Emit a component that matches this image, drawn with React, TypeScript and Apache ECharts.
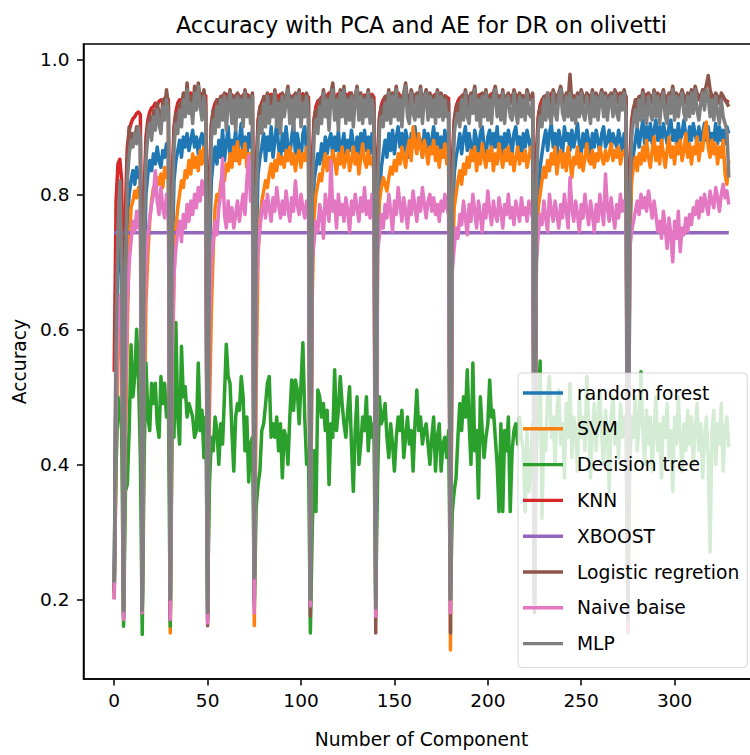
import React, { useEffect, useRef } from "react";
import * as echarts from "echarts";

const chartTitle = "Accuracy with PCA and AE for DR on olivetti";
const xAxisTitle = "Number of Component";
const yAxisTitle = "Accuracy";

// Every run restarts the component count; index at which each run begins
const segmentStarts = [0, 5, 15, 30, 50, 75, 105, 140, 180, 225, 275];
const lastIndex = 329;
const xTicks = [0, 50, 100, 150, 200, 250, 300];
const yTicks = [0.2, 0.4, 0.6, 0.8, 1.0];

const seriesNames = [
  "random forest",
  "SVM",
  "Decision tree",
  "KNN",
  "XBOOST",
  "Logistic regretion",
  "Naive baise",
  "MLP",
];
const seriesColors = ["#1f77b4", "#ff7f0e", "#2ca02c", "#d62728", "#9467bd", "#8c564b", "#e377c2", "#7f7f7f"];

// Accuracies in thousandths, one inner array per run
const randomForest = [
  [210, 550, 680, 720, 700],
  [180, 620, 760, 800, 820, 835, 815, 840, 825, 835],
  [180, 680, 800, 830, 850, 835, 860, 845, 870, 850, 840, 865, 855, 875, 860],
  [180, 700, 820, 850, 865, 880, 855, 885, 870, 890, 865, 880, 895, 870, 885, 860, 880, 890, 870, 880],
  [170, 710, 820, 850, 870, 845, 880, 855, 895, 850, 875, 900, 855, 880, 865, 895, 850, 880, 905, 860, 885, 855, 890, 870, 895],
  [200, 720, 830, 855, 870, 890, 850, 885, 865, 900, 855, 880, 905, 870, 850, 890, 865, 900, 870, 855, 885, 905, 860, 890, 870, 850, 890, 900, 860, 880],
  [190, 730, 820, 840, 860, 845, 875, 850, 885, 860, 880, 890, 855, 885, 865, 895, 860, 875, 890, 850, 880, 865, 895, 875, 855, 885, 860, 890, 870, 895, 865, 885, 860, 890, 875],
  [560, 740, 800, 840, 860, 880, 855, 890, 865, 895, 860, 885, 900, 870, 890, 860, 895, 880, 855, 890, 870, 900, 865, 885, 880, 855, 895, 870, 890, 860, 880, 900, 870, 890, 860, 885, 860, 895, 870, 880],
  [200, 730, 830, 855, 870, 890, 860, 885, 900, 865, 890, 870, 855, 895, 880, 860, 890, 900, 870, 855, 885, 895, 865, 890, 870, 900, 860, 885, 855, 890, 870, 895, 880, 860, 890, 900, 870, 885, 855, 890, 870, 895, 880, 865, 885],
  [190, 700, 800, 840, 860, 880, 895, 865, 890, 905, 870, 890, 855, 895, 880, 860, 900, 880, 890, 865, 895, 870, 885, 905, 875, 860, 890, 870, 895, 880, 855, 890, 870, 895, 880, 860, 890, 900, 870, 880, 895, 865, 890, 880, 870, 895, 880, 865, 890, 880],
  [190, 720, 830, 860, 880, 900, 870, 890, 910, 875, 900, 880, 905, 875, 895, 910, 880, 900, 875, 905, 890, 875, 900, 910, 880, 895, 875, 905, 880, 890, 910, 885, 875, 900, 880, 905, 890, 875, 900, 880, 890, 905, 880, 900, 875, 890, 880, 905, 875, 900, 880, 895, 875, 900, 890],
];

const svm = [
  [210, 400, 550, 620, 600],
  [175, 420, 600, 720, 780, 790, 805, 795, 810, 800],
  [180, 450, 640, 710, 760, 790, 810, 800, 825, 815, 830, 810, 840, 825, 835],
  [150, 500, 680, 750, 780, 800, 820, 810, 835, 825, 850, 830, 860, 840, 855, 835, 865, 845, 870, 850],
  [170, 480, 625, 720, 780, 800, 790, 815, 830, 820, 845, 835, 860, 840, 870, 850, 878, 845, 865, 855, 875, 840, 860, 850, 865],
  [161, 520, 710, 760, 790, 805, 820, 810, 830, 845, 825, 850, 835, 860, 845, 855, 840, 865, 850, 870, 845, 860, 835, 855, 865, 840, 860, 850, 870, 845],
  [190, 649, 768, 800, 815, 830, 820, 845, 860, 835, 855, 840, 865, 850, 830, 860, 845, 870, 840, 855, 865, 835, 850, 870, 845, 860, 830, 855, 875, 850, 840, 865, 845, 855, 835],
  [175, 730, 790, 810, 825, 815, 805, 825, 840, 830, 850, 835, 860, 845, 870, 855, 840, 865, 880, 850, 900, 875, 860, 890, 870, 855, 880, 865, 845, 870, 860, 880, 850, 870, 840, 865, 855, 875, 845, 860],
  [125, 690, 780, 800, 820, 835, 815, 845, 830, 855, 840, 865, 850, 870, 835, 860, 845, 875, 855, 840, 865, 850, 870, 835, 860, 845, 875, 855, 840, 865, 850, 870, 845, 860, 835, 855, 870, 845, 860, 850, 865, 840, 855, 870, 850],
  [190, 730, 780, 800, 820, 840, 825, 850, 835, 860, 845, 870, 830, 855, 865, 840, 860, 835, 870, 850, 825, 855, 845, 870, 840, 860, 835, 855, 875, 850, 845, 865, 840, 860, 850, 870, 855, 845, 865, 850, 860, 875, 850, 865, 855, 870, 845, 860, 865, 855],
  [185, 740, 820, 840, 855, 835, 860, 845, 870, 850, 880, 855, 840, 865, 885, 850, 870, 845, 880, 860, 840, 865, 885, 855, 870, 845, 875, 860, 880, 850, 865, 890, 855, 875, 845, 870, 860, 885, 850, 875, 865, 895, 907, 870, 855, 880, 860, 875, 845, 870, 855, 880, 830, 815, 850],
];

const decisionTree = [
  [220, 400, 500, 480, 450],
  [160, 360, 370, 450, 577, 500, 530, 600, 530, 410],
  [148, 410, 550, 470, 450, 520, 490, 520, 460, 440, 530, 490, 520, 470, 500],
  [160, 450, 440, 610, 470, 430, 575, 500, 515, 470, 490, 480, 470, 440, 450, 550, 450, 480, 410, 470],
  [200, 370, 440, 420, 470, 450, 400, 460, 430, 500, 578, 530, 520, 450, 390, 470, 490, 480, 530, 500, 420, 470, 374, 430, 440],
  [200, 337, 370, 390, 450, 460, 488, 520, 530, 440, 460, 440, 470, 420, 460, 380, 450, 440, 400, 470, 525, 480, 525, 510, 460, 520, 580, 470, 400, 420],
  [150, 300, 420, 330, 510, 500, 470, 490, 450, 480, 370, 460, 440, 540, 450, 480, 530, 490, 460, 440, 480, 515, 430, 360, 450, 500, 400, 430, 470, 450, 500, 420, 470, 440, 460],
  [200, 380, 500, 460, 470, 490, 440, 410, 460, 430, 390, 440, 470, 450, 480, 410, 440, 470, 430, 450, 390, 460, 510, 450, 470, 430, 450, 460, 430, 400, 440, 470, 390, 440, 460, 390, 430, 440, 410, 450],
  [200, 330, 360, 380, 440, 490, 450, 500, 470, 540, 460, 400, 550, 420, 450, 350, 500, 450, 410, 440, 460, 525, 470, 480, 440, 400, 330, 460, 330, 450, 420, 470, 330, 420, 450, 460, 430, 470, 440, 420, 330, 450, 360, 400, 460],
  [200, 420, 480, 553, 320, 450, 420, 500, 530, 440, 470, 400, 480, 510, 430, 460, 380, 490, 440, 520, 410, 470, 450, 390, 500, 440, 470, 420, 530, 460, 380, 450, 490, 420, 470, 510, 440, 400, 480, 450, 360, 470, 500, 430, 460, 410, 490, 440, 470, 450],
  [160, 400, 470, 440, 500, 420, 460, 537, 450, 400, 480, 430, 470, 390, 450, 500, 420, 460, 380, 470, 440, 490, 410, 450, 360, 470, 430, 500, 440, 390, 460, 420, 480, 430, 470, 400, 450, 490, 420, 460, 380, 440, 470, 410, 270, 450, 480, 400, 460, 430, 490, 390, 450, 470, 425],
];

const knn = [
  [537, 790, 845, 852, 820],
  [300, 780, 870, 895, 905, 912, 915, 920, 922, 918],
  [280, 800, 885, 910, 922, 928, 930, 935, 932, 938, 940, 936, 942, 945, 940],
  [300, 820, 900, 922, 935, 940, 938, 945, 942, 948, 944, 950, 946, 942, 948, 945, 950, 947, 944, 946],
  [280, 830, 905, 925, 935, 940, 938, 944, 946, 942, 948, 945, 950, 947, 943, 946, 949, 945, 942, 947, 944, 948, 946, 943, 945],
  [300, 840, 910, 928, 936, 942, 945, 940, 946, 948, 944, 950, 946, 943, 948, 945, 941, 947, 950, 945, 942, 946, 948, 944, 947, 945, 949, 943, 946, 944],
  [290, 850, 912, 930, 938, 940, 944, 947, 942, 946, 950, 945, 948, 943, 946, 949, 944, 941, 946, 948, 945, 950, 947, 943, 945, 948, 944, 946, 942, 947, 945, 943, 946, 948, 944],
  [580, 860, 915, 932, 940, 944, 946, 942, 948, 945, 943, 947, 950, 946, 944, 948, 945, 942, 946, 949, 944, 947, 945, 943, 948, 946, 944, 950, 947, 945, 942, 946, 948, 944, 947, 945, 943, 946, 944, 942],
  [300, 850, 910, 930, 938, 943, 945, 948, 944, 946, 942, 947, 950, 945, 943, 946, 948, 944, 947, 945, 942, 946, 949, 945, 943, 947, 944, 946, 948, 945, 943, 946, 944, 947, 945, 942, 946, 948, 944, 946, 943, 945, 947, 944, 946],
  [300, 860, 915, 932, 940, 944, 946, 943, 947, 950, 945, 948, 944, 946, 949, 945, 942, 947, 945, 948, 944, 946, 943, 947, 945, 949, 946, 943, 945, 947, 944, 946, 948, 945, 942, 946, 944, 947, 945, 943, 946, 948, 944, 946, 950, 947, 944, 946, 948, 945],
  [300, 850, 910, 928, 936, 940, 944, 946, 942, 945, 948, 944, 946, 943, 947, 945, 941, 946, 948, 944, 946, 943, 945, 947, 944, 946, 942, 945, 948, 944, 946, 943, 945, 947, 944, 942, 946, 944, 947, 945, 943, 941, 945, 947, 944, 942, 946, 944, 940, 943, 941, 944, 940, 938, 936],
];

// XBOOST stays at one level in every run
const xboost = [743, 743, 743, 743, 743, 743, 743, 743, 743, 743, 743];

const logisticRegression = [
  [200, 620, 720, 780, 740],
  [172, 700, 840, 900, 870, 890, 880, 900, 890, 880],
  [180, 760, 870, 900, 915, 890, 925, 905, 935, 920, 900, 940, 925, 955, 930],
  [170, 780, 890, 920, 905, 935, 915, 950, 925, 965, 930, 945, 920, 960, 935, 965, 940, 925, 955, 930],
  [161, 790, 900, 925, 915, 940, 920, 945, 930, 950, 925, 940, 955, 930, 945, 920, 950, 935, 945, 925, 955, 935, 945, 930, 950],
  [190, 800, 905, 930, 920, 945, 930, 950, 925, 945, 935, 955, 930, 940, 920, 950, 935, 945, 960, 930, 945, 925, 950, 935, 955, 930, 945, 940, 950, 935],
  [175, 810, 910, 925, 915, 940, 930, 955, 935, 945, 925, 950, 965, 935, 945, 920, 955, 935, 960, 930, 945, 935, 950, 925, 945, 960, 935, 950, 930, 945, 940, 955, 930, 945, 935],
  [150, 820, 910, 930, 920, 945, 935, 955, 930, 950, 940, 960, 935, 945, 925, 950, 965, 940, 930, 955, 945, 935, 950, 940, 960, 930, 945, 955, 935, 950, 940, 945, 930, 955, 940, 950, 935, 945, 940, 935],
  [150, 810, 905, 925, 935, 920, 945, 935, 955, 940, 930, 950, 945, 960, 935, 945, 925, 950, 940, 955, 935, 945, 930, 950, 960, 940, 945, 935, 955, 930, 945, 950, 940, 935, 955, 945, 930, 950, 940, 945, 935, 955, 945, 940, 950],
  [180, 820, 910, 930, 920, 945, 935, 950, 940, 930, 955, 945, 935, 950, 960, 945, 935, 950, 940, 978, 935, 945, 930, 950, 940, 955, 945, 935, 950, 945, 930, 955, 940, 950, 935, 945, 955, 940, 950, 935, 945, 950, 940, 955, 945, 935, 950, 945, 955, 940],
  [170, 800, 900, 925, 940, 920, 945, 935, 955, 940, 930, 950, 945, 935, 955, 940, 950, 935, 945, 955, 940, 930, 950, 945, 960, 940, 950, 935, 945, 955, 945, 935, 950, 940, 955, 945, 960, 950, 940, 945, 955, 950, 962, 976, 955, 945, 940, 950, 945, 935, 950, 945, 940, 935, 930],
];

const naiveBayes = [
  [200, 480, 600, 650, 630],
  [170, 500, 640, 700, 730, 760, 745, 775, 750, 780],
  [180, 580, 700, 740, 765, 785, 800, 835, 790, 770, 810, 780, 765, 800, 790],
  [170, 550, 680, 720, 745, 760, 730, 770, 750, 785, 760, 790, 770, 800, 780, 810, 790, 820, 800, 810],
  [165, 600, 700, 730, 760, 740, 780, 800, 853, 770, 750, 790, 760, 780, 750, 770, 790, 760, 780, 800, 770, 820, 857, 790, 800],
  [180, 640, 720, 750, 775, 790, 765, 800, 780, 760, 795, 775, 810, 785, 765, 790, 770, 805, 780, 760, 795, 775, 820, 785, 770, 800, 780, 765, 790, 775],
  [190, 700, 730, 760, 745, 785, 770, 735, 800, 780, 760, 850, 775, 790, 750, 800, 770, 785, 760, 795, 775, 745, 790, 770, 800, 780, 760, 795, 775, 810, 770, 790, 765, 800, 785],
  [175, 714, 740, 770, 750, 785, 765, 800, 775, 745, 790, 770, 810, 785, 760, 795, 775, 750, 790, 770, 805, 780, 760, 795, 775, 810, 785, 765, 790, 800, 775, 795, 770, 785, 760, 790, 775, 800, 780, 770],
  [180, 690, 720, 750, 735, 770, 755, 790, 765, 740, 785, 760, 800, 775, 750, 790, 770, 745, 785, 765, 805, 775, 755, 790, 770, 760, 795, 775, 750, 785, 770, 800, 765, 780, 755, 790, 775, 760, 795, 770, 780, 760, 790, 775, 765],
  [190, 700, 740, 770, 755, 790, 765, 745, 800, 775, 760, 790, 770, 750, 785, 765, 800, 775, 750, 825, 780, 760, 790, 770, 745, 785, 765, 800, 775, 755, 790, 770, 745, 785, 760, 800, 775, 755, 830, 780, 760, 795, 770, 750, 785, 765, 800, 775, 790, 770],
  [150, 720, 745, 760, 775, 790, 770, 800, 780, 795, 775, 805, 785, 765, 790, 770, 745, 760, 735, 775, 750, 720, 765, 740, 700, 760, 735, 775, 715, 750, 740, 765, 745, 770, 755, 780, 770, 790, 765, 795, 775, 800, 785, 770, 805, 790, 780, 810, 795, 775, 800, 815, 795, 805, 785],
];

const mlp = [
  [225, 580, 750, 820, 700],
  [184, 680, 820, 860, 880, 870, 890, 875, 900, 880],
  [184, 720, 850, 890, 905, 880, 915, 895, 925, 905, 890, 930, 910, 940, 920],
  [200, 750, 870, 905, 890, 925, 900, 940, 915, 955, 920, 935, 905, 950, 925, 960, 930, 910, 945, 920],
  [180, 760, 880, 910, 890, 930, 900, 940, 910, 945, 895, 935, 950, 905, 940, 895, 945, 915, 940, 900, 950, 915, 940, 905, 945],
  [232, 780, 885, 915, 890, 935, 900, 945, 905, 930, 915, 950, 900, 935, 890, 945, 915, 935, 955, 905, 940, 895, 945, 915, 950, 900, 935, 915, 945, 910],
  [200, 790, 890, 910, 890, 930, 905, 950, 915, 940, 895, 945, 955, 910, 940, 895, 950, 915, 955, 905, 940, 910, 945, 900, 940, 955, 910, 945, 905, 940, 915, 950, 905, 940, 915],
  [187, 800, 895, 915, 900, 935, 910, 950, 905, 945, 915, 955, 910, 940, 900, 945, 960, 915, 905, 950, 920, 910, 945, 915, 955, 905, 940, 950, 910, 945, 915, 940, 905, 950, 915, 945, 910, 940, 915, 920],
  [200, 790, 890, 910, 920, 900, 940, 910, 950, 915, 905, 945, 920, 955, 910, 940, 900, 945, 915, 950, 910, 940, 905, 945, 955, 915, 940, 910, 950, 905, 940, 945, 915, 910, 950, 920, 905, 945, 915, 940, 910, 950, 920, 915, 940],
  [194, 800, 895, 915, 900, 940, 910, 950, 915, 905, 950, 920, 910, 945, 955, 920, 910, 945, 915, 950, 910, 940, 905, 945, 915, 950, 920, 910, 945, 925, 905, 950, 915, 945, 910, 940, 950, 915, 945, 910, 940, 945, 915, 950, 920, 910, 945, 925, 950, 915],
  [170, 790, 885, 910, 925, 900, 940, 910, 950, 915, 905, 945, 920, 910, 950, 915, 945, 905, 935, 950, 915, 905, 945, 920, 955, 910, 945, 915, 940, 950, 920, 910, 945, 915, 950, 920, 955, 925, 910, 935, 950, 925, 955, 945, 915, 940, 910, 945, 920, 905, 940, 915, 905, 895, 825],
];

const FONT = "DejaVu Sans";

function runPoints(runs: number[][]): number[][] {
  const pts: number[][] = [];
  runs.forEach((run, k) => {
    run.forEach((v, i) => pts.push([segmentStarts[k] + i, v / 1000]));
  });
  return pts;
}

function levelPoints(levels: number[]): number[][] {
  const pts: number[][] = [];
  levels.forEach((v, k) => {
    const end = k + 1 < segmentStarts.length ? segmentStarts[k + 1] - 1 : lastIndex;
    pts.push([segmentStarts[k], v / 1000]);
    pts.push([end, v / 1000]);
  });
  return pts;
}

const seriesData = [
  runPoints(randomForest),
  runPoints(svm),
  runPoints(decisionTree),
  runPoints(knn),
  levelPoints(xboost),
  runPoints(logisticRegression),
  runPoints(naiveBayes),
  runPoints(mlp),
];

const GRID_LEFT = 83.5;
const GRID_TOP = 44;
const GRID_W = 676;
const GRID_H = 635;

function buildOption() {
  return {
    animation: false,
    backgroundColor: "#ffffff",
    textStyle: { fontFamily: FONT },
    grid: {
      left: GRID_LEFT,
      top: GRID_TOP,
      width: GRID_W,
      height: GRID_H,
      show: true,
      borderColor: "#000",
      borderWidth: 1.5,
      backgroundColor: "transparent",
    },
    graphic: [
      {
        type: "text",
        x: GRID_LEFT + GRID_W / 2,
        y: 25,
        z: 10,
        style: {
          text: chartTitle,
          fontFamily: FONT,
          fontSize: 22.4,
          fill: "#000",
          align: "center",
          verticalAlign: "middle",
        },
      },
    ],
    legend: {
      show: true,
      orient: "vertical",
      left: 518,
      top: 373,
      padding: [10, 8, 14, 5],
      itemGap: 15.8,
      itemWidth: 40,
      itemHeight: 3.4,
      icon: "rect",
      backgroundColor: "rgba(255,255,255,0.8)",
      borderColor: "rgba(204,204,204,0.8)",
      borderWidth: 1,
      borderRadius: 4,
      textStyle: {
        fontFamily: FONT,
        fontSize: 18.7,
        color: "#000",
        lineHeight: 20,
        padding: [0, 0, 0, 9],
      },
      data: seriesNames,
    },
    xAxis: {
      type: "value",
      min: -16.45,
      max: 345.45,
      name: xAxisTitle,
      nameLocation: "middle",
      nameGap: 51,
      nameTextStyle: { fontFamily: FONT, fontSize: 18.7, color: "#000" },
      axisLine: { show: true, onZero: false, lineStyle: { color: "#000", width: 1.5 } },
      axisTick: { show: true, inside: false, length: 6.5, lineStyle: { color: "#000", width: 1.5 }, customValues: xTicks },
      axisLabel: { show: true, margin: 12, fontFamily: FONT, fontSize: 18.5, color: "#000", customValues: xTicks },
      splitLine: { show: false },
    },
    yAxis: {
      type: "value",
      min: 0.082,
      max: 1.0227,
      name: yAxisTitle,
      nameLocation: "middle",
      nameRotate: 90,
      nameGap: 52,
      nameTextStyle: { fontFamily: FONT, fontSize: 18.7, color: "#000" },
      axisLine: { show: true, onZero: false, lineStyle: { color: "#000", width: 1.5 } },
      axisTick: { show: true, inside: false, length: 6.5, lineStyle: { color: "#000", width: 1.5 }, customValues: yTicks },
      axisLabel: {
        show: true,
        margin: 14,
        fontFamily: FONT,
        fontSize: 18.5,
        color: "#000",
        customValues: yTicks,
        formatter: (v: number) => v.toFixed(1),
      },
      splitLine: { show: false },
    },
    series: seriesNames.map((name, i) => ({
      name,
      type: "line",
      data: seriesData[i],
      showSymbol: false,
      symbol: "none",
      clip: true,
      color: seriesColors[i],
      lineStyle: { color: seriesColors[i], width: 3.5, join: "round", cap: "butt" },
      emphasis: { disabled: true },
      z: 2,
    })),
  };
}

export default function App() {
  const ref = useRef<HTMLDivElement>(null);
  useEffect(() => {
    if (!ref.current) return;
    const chart = echarts.init(ref.current, undefined, { renderer: "svg" });
    chart.setOption(buildOption() as any);
    return () => chart.dispose();
  }, []);
  return (
    <div
      style={{
        position: "fixed",
        left: 0,
        top: 0,
        width: 750,
        height: 755,
        overflow: "hidden",
        background: "#fff",
      }}
    >
      <div ref={ref} style={{ width: 760, height: 755 }} />
    </div>
  );
}
